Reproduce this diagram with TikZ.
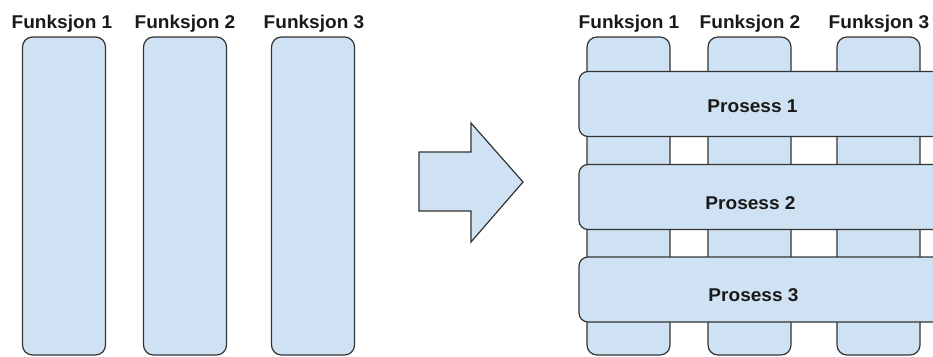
\documentclass[tikz,border=0pt]{standalone}
\usepackage{fontspec}
\setmainfont{Liberation Sans}
\begin{document}
\begin{tikzpicture}[x=1pt,y=-1pt,
  lane/.style={draw=black!80, fill=boxblue, line width=1.2pt, rounded corners=10pt,
    inner sep=0pt, minimum width=83pt, minimum height=318pt},
  band/.style={draw=black!80, fill=boxblue, line width=1.2pt, rounded corners=9pt,
    inner sep=0pt, minimum width=372pt, minimum height=65pt},
  caption/.style={font=\bfseries\fontsize{18.5}{18.5}\selectfont, text=black!90,
    inner sep=0pt, anchor=base, xscale=1.03}]
\definecolor{boxblue}{HTML}{CFE2F3}
\useasboundingbox (0,0) rectangle (933,356);
\clip (0,0) rectangle (933,356);

% functions on their own
\node[lane] (f1) at (64,196) {};
\node[lane] (f2) at (185,196) {};
\node[lane] (f3) at (313,196) {};
\node[caption] (t1) at (62,28) {Funksjon 1};
\node[caption] (t2) at (185,28) {Funksjon 2};
\node[caption] (t3) at (314,28) {Funksjon 3};

% transition arrow
\draw[draw=black!80, fill=boxblue, line width=1.2pt, line join=miter]
  (419,152) -- (471,152) -- (471,123) -- (523,182) -- (471,242) -- (471,211)
  -- (419,211) -- cycle;

% functions crossed by processes
\node[lane] (g1) at (628.5,196) {};
\node[lane] (g2) at (749.5,196) {};
\node[lane] (g3) at (878.5,196) {};
\node[caption] (u1) at (629,28) {Funksjon 1};
\node[caption] (u2) at (750,28) {Funksjon 2};
\node[caption] (u3) at (879,28) {Funksjon 3};

\node[band] (p1) at (765,104) {};
\node[band] (p2) at (765,197) {};
\node[band] (p3) at (765,289.5) {};
\node[caption] (q1) at (752.5,112.5) {Prosess 1};
\node[caption] (q2) at (750.5,209) {Prosess 2};
\node[caption] (q3) at (753.5,301.5) {Prosess 3};
\end{tikzpicture}
\end{document}
